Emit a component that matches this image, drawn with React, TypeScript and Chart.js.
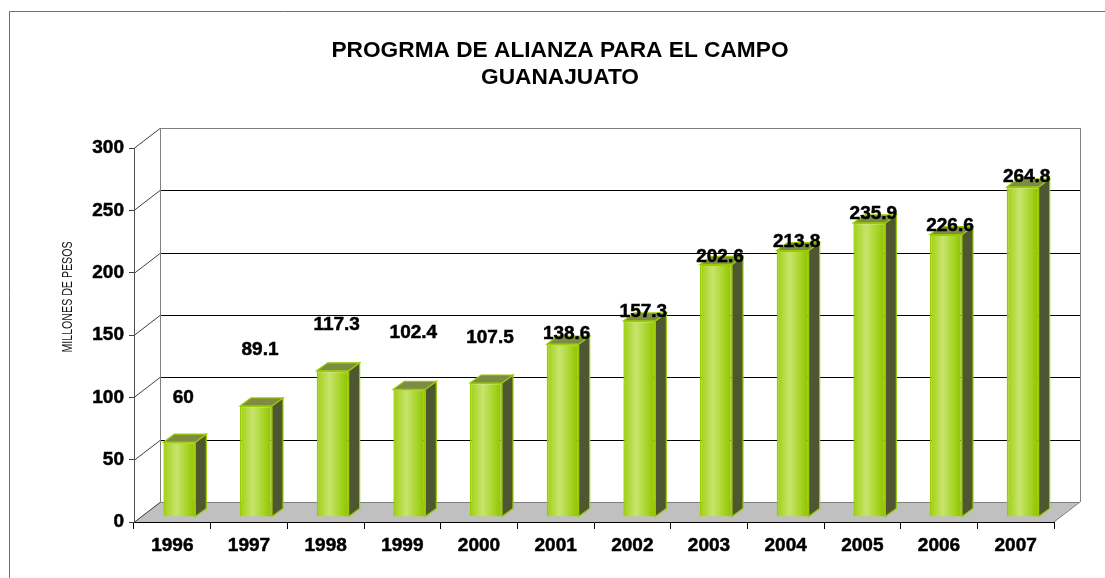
import React, { useEffect, useRef } from "react";
import { Chart, registerables } from "chart.js";

Chart.register(...registerables);

// ---- data ----
const TITLE_LINES = ["PROGRMA DE ALIANZA PARA EL CAMPO", "GUANAJUATO"];
const Y_AXIS_TITLE = "MILLONES DE PESOS";
const YEARS = ["1996", "1997", "1998", "1999", "2000", "2001", "2002", "2003", "2004", "2005", "2006", "2007"];
const VALUES = [60, 89.1, 117.3, 102.4, 107.5, 138.6, 157.3, 202.6, 213.8, 235.9, 226.6, 264.8];
const VALUE_LABELS = ["60", "89.1", "117.3", "102.4", "107.5", "138.6", "157.3", "202.6", "213.8", "235.9", "226.6", "264.8"];
const Y_TICKS = [0, 50, 100, 150, 200, 250, 300];

// ---- layout / style ----
const FONT = "'Liberation Sans', Arial, sans-serif";
const WALL_DX = 26;
const WALL_DY = -20;
const BAR_SHIFT_X = 7;
const BAR_SHIFT_Y = -5;
const BAR_DEPTH_X = 11;
const BAR_DEPTH_Y = -8;
const BAR_PCT = 0.417;

const scenePlugin = {
  id: "scene3d",
  beforeDraw(chart: any) {
    const { ctx, chartArea: a, scales } = chart;
    const ys = scales.y;
    ctx.save();
    ctx.fillStyle = "#ffffff";
    ctx.fillRect(0, 0, chart.width, chart.height);
    // outer frame
    ctx.strokeStyle = "#6e6e6e";
    ctx.lineWidth = 1;
    ctx.beginPath();
    ctx.moveTo(9.5, chart.height);
    ctx.lineTo(9.5, 11.5);
    ctx.lineTo(chart.width, 11.5);
    ctx.stroke();

    const y0 = ys.getPixelForValue(Y_TICKS[0]);
    const yTop = ys.getPixelForValue(Y_TICKS[Y_TICKS.length - 1]);
    // floor
    ctx.fillStyle = "#c0c0c0";
    ctx.beginPath();
    ctx.moveTo(a.left, y0);
    ctx.lineTo(a.left + WALL_DX, y0 + WALL_DY);
    ctx.lineTo(a.right + WALL_DX, y0 + WALL_DY);
    ctx.lineTo(a.right, y0);
    ctx.closePath();
    ctx.fill();
    ctx.strokeStyle = "#808080";
    ctx.beginPath();
    ctx.moveTo(a.right, y0);
    ctx.lineTo(a.right + WALL_DX, y0 + WALL_DY);
    ctx.stroke();

    // back wall grid lines + left wall diagonals
    Y_TICKS.forEach((v, i) => {
      const py = Math.round(ys.getPixelForValue(v)) + 0.5;
      const edge = i === 0 || i === Y_TICKS.length - 1;
      ctx.strokeStyle = edge ? "#808080" : "#000000";
      ctx.beginPath();
      ctx.moveTo(a.left + WALL_DX, py + WALL_DY);
      ctx.lineTo(a.right + WALL_DX, py + WALL_DY);
      ctx.stroke();
      ctx.strokeStyle = "#404040";
      ctx.beginPath();
      ctx.moveTo(a.left, py);
      ctx.lineTo(a.left + WALL_DX, py + WALL_DY);
      ctx.stroke();
    });
    // back wall verticals
    ctx.strokeStyle = "#808080";
    ctx.beginPath();
    ctx.moveTo(Math.round(a.left + WALL_DX) + 0.5, yTop + WALL_DY);
    ctx.lineTo(Math.round(a.left + WALL_DX) + 0.5, y0 + WALL_DY);
    ctx.moveTo(Math.round(a.right + WALL_DX) + 0.5, yTop + WALL_DY);
    ctx.lineTo(Math.round(a.right + WALL_DX) + 0.5, y0 + WALL_DY);
    ctx.stroke();
    ctx.restore();
  },
  beforeDatasetsDraw(chart: any) {
    chart.ctx.save();
    chart.ctx.translate(BAR_SHIFT_X, BAR_SHIFT_Y);
  },
  afterDatasetsDraw(chart: any) {
    const ctx = chart.ctx;
    const meta = chart.getDatasetMeta(0);
    meta.data.forEach((el: any) => {
      const { x, y, base, width } = el.getProps(["x", "y", "base", "width"], true);
      const l = x - width / 2;
      const r = x + width / 2;
      ctx.lineWidth = 1.2;
      ctx.strokeStyle = "#99cc00";
      // side face
      ctx.fillStyle = "#4e5731";
      ctx.beginPath();
      ctx.moveTo(r, y);
      ctx.lineTo(r + BAR_DEPTH_X, y + BAR_DEPTH_Y);
      ctx.lineTo(r + BAR_DEPTH_X, base + BAR_DEPTH_Y);
      ctx.lineTo(r, base);
      ctx.closePath();
      ctx.fill();
      ctx.stroke();
      // top face
      ctx.fillStyle = "#7e8c43";
      ctx.beginPath();
      ctx.moveTo(l, y);
      ctx.lineTo(l + BAR_DEPTH_X, y + BAR_DEPTH_Y);
      ctx.lineTo(r + BAR_DEPTH_X, y + BAR_DEPTH_Y);
      ctx.lineTo(r, y);
      ctx.closePath();
      ctx.fill();
      ctx.stroke();
    });
    ctx.restore();
  },
  afterDraw(chart: any, _args: any, opts: any) {
    const ctx = chart.ctx;
    const meta = chart.getDatasetMeta(0);
    const lift: number[] = opts.labelLift || [];
    ctx.save();
    ctx.font = `bold 19px ${FONT}`;
    ctx.fillStyle = "#000";
    ctx.strokeStyle = "#000";
    ctx.lineWidth = 0.5;
    ctx.textAlign = "center";
    ctx.textBaseline = "middle";
    meta.data.forEach((el: any, i: number) => {
      const { x, y } = el.getProps(["x", "y"], true);
      const tx = x + BAR_SHIFT_X + 4;
      const ty = y + BAR_SHIFT_Y - (lift[i] || 10);
      ctx.fillText(VALUE_LABELS[i], tx, ty);
      ctx.strokeText(VALUE_LABELS[i], tx, ty);
    });
    // y axis title
    ctx.translate(68, 297);
    ctx.rotate(-Math.PI / 2);
    ctx.scale(0.76, 1);
    ctx.font = `14px ${FONT}`;
    ctx.fillStyle = "#111";
    ctx.fillText(Y_AXIS_TITLE, 0, 0);
    ctx.restore();
  },
};

export default function App() {
  const ref = useRef<HTMLCanvasElement>(null);
  useEffect(() => {
    if (!ref.current) return;
    const tickFont = { family: FONT, size: 19, weight: "bold" };
    const chart = new Chart(ref.current, {
      type: "bar",
      data: {
        labels: YEARS,
        datasets: [
          {
            data: VALUES,
            borderColor: "#99cc00",
            borderWidth: 1.5,
            barPercentage: BAR_PCT,
            categoryPercentage: 1,
            backgroundColor: (c: any) => {
              const ch = c.chart;
              const xs = ch.scales && ch.scales.x;
              if (!xs || c.dataIndex == null || !ch.chartArea) return "#aad52a";
              const cx = xs.getPixelForValue(c.dataIndex);
              const w = ((ch.chartArea.right - ch.chartArea.left) / YEARS.length) * BAR_PCT;
              const g = ch.ctx.createLinearGradient(cx - w / 2, 0, cx + w / 2, 0);
              g.addColorStop(0, "#9fcf10");
              g.addColorStop(0.4, "#c8e46e");
              g.addColorStop(0.75, "#a6d424");
              g.addColorStop(1, "#8fbf00");
              return g;
            },
          },
        ],
      },
      options: {
        responsive: false,
        animation: false,
        devicePixelRatio: 1,
        layout: { padding: { left: 66, right: 51, top: 0, bottom: 16 } },
        plugins: {
          legend: { display: false },
          tooltip: { enabled: false },
          title: {
            display: true,
            text: TITLE_LINES,
            color: "#000",
            font: { family: FONT, size: 22.7, weight: "bold", lineHeight: 1.19 },
            padding: { top: 37.5, bottom: 56.5 },
          },
          scene3d: {
            labelLift: [44, 56, 46, 57, 45, 10, 9, 8, 8.5, 9, 8.5, 10],
          },
        } as any,
        scales: {
          x: {
            type: "category",
            offset: true,
            grid: { offset: true, drawOnChartArea: false, drawTicks: true, tickLength: 7, color: "#000" },
            border: { display: true, color: "#000" },
            ticks: {
              color: "#000",
              font: tickFont,
              padding: 5,
              maxRotation: 0,
              autoSkip: false,
              textStrokeColor: "#000",
              textStrokeWidth: 0.5,
            },
            afterFit: (s: any) => {
              s.height = 40;
            },
          },
          y: {
            min: 0,
            max: 300,
            afterBuildTicks: (s: any) => {
              s.ticks = Y_TICKS.map((v) => ({ value: v }));
            },
            grid: { drawOnChartArea: false, drawTicks: true, tickLength: 5, color: "#404040" },
            border: { display: true, color: "#505050" },
            ticks: { color: "#000", font: tickFont, padding: 5, textStrokeColor: "#000", textStrokeWidth: 0.5 },
            afterFit: (s: any) => {
              s.width = 68;
            },
          },
        },
      } as any,
      plugins: [scenePlugin],
    });
    return () => chart.destroy();
  }, []);
  return (
    <div style={{ position: "fixed", left: 0, top: 0, width: 1105, height: 578, background: "#fff" }}>
      <canvas ref={ref} width={1105} height={578} style={{ display: "block", width: 1105, height: 578 }} />
    </div>
  );
}
